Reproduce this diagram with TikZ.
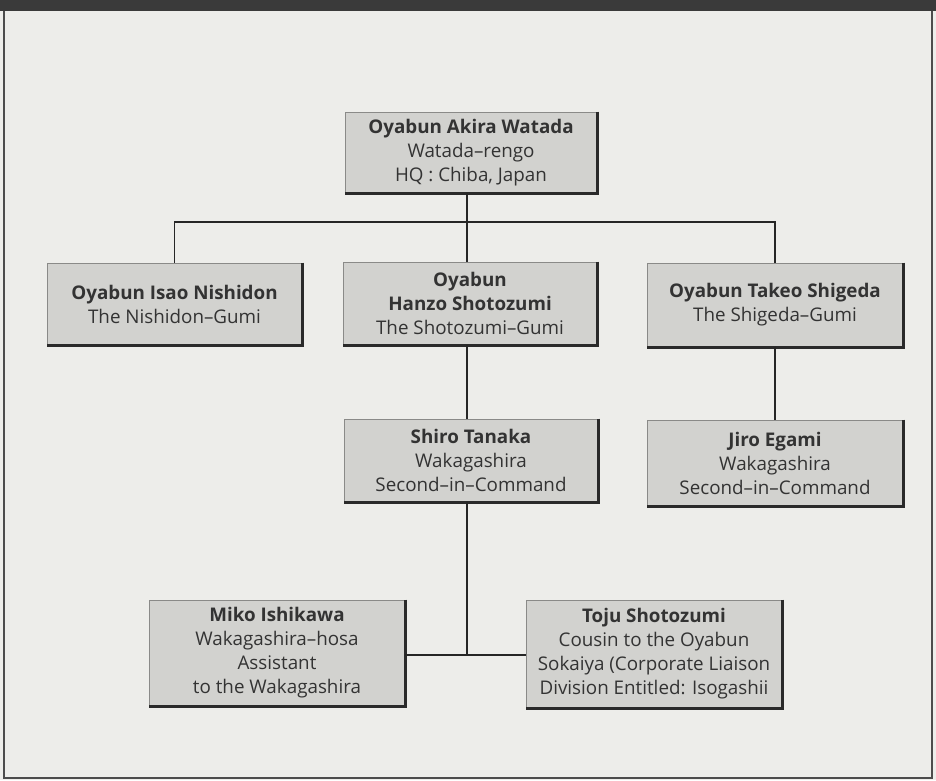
\documentclass[tikz,border=0pt]{standalone}
\usepackage{fontspec}
\setmainfont{Open Sans}
\definecolor{bg}{HTML}{EDEDEA}
\definecolor{boxfill}{HTML}{D2D2CF}
\definecolor{thinedge}{HTML}{8A8A88}
\definecolor{darkedge}{HTML}{2A2A2A}
\definecolor{topbar}{HTML}{3A3A3A}
\tikzset{
  orgbox/.style={rectangle, fill=boxfill, draw=thinedge, line width=0.8pt, inner sep=0pt,
    align=center, font=\fontsize{18.8}{24}\selectfont, text=black!80},
  shadowedge/.style={draw=darkedge, line width=2.6pt},
  link/.style={draw=black!85, line width=1.2pt}
}
\newcommand{\hd}[1]{\textbf{#1}}
\begin{document}
\begin{tikzpicture}[x=1pt,y=1pt]
\useasboundingbox (0,0) rectangle (936,780);
\fill[bg] (0,0) rectangle (936,780);
\fill[topbar] (0,769) rectangle (936,780);
\draw[black!70, line width=1.5pt] (4,769) -- (4,2) -- (932,2) -- (932,769);

\node[orgbox, minimum width=252, minimum height=81] (top) at (471,627.5)
  {\hd{Oyabun Akira Watada}\\Watada--rengo\\HQ : Chiba, Japan};
\node[orgbox, minimum width=255, minimum height=82] (nish) at (174.5,476)
  {\hd{Oyabun Isao Nishidon}\\The Nishidon--Gumi};
\node[orgbox, minimum width=254, minimum height=83] (shot) at (470,476.5)
  {\hd{Oyabun}\\\hd{Hanzo Shotozumi}\\The Shotozumi--Gumi};
\node[orgbox, minimum width=256, minimum height=84] (shig) at (775,475)
  {\hd{Oyabun Takeo Shigeda}\\The Shigeda--Gumi};
\node[orgbox, minimum width=254, minimum height=83] (tana) at (471,319.5)
  {\hd{Shiro Tanaka}\\Wakagashira\\Second--in--Command};
\node[orgbox, minimum width=256, minimum height=86] (egami) at (775,317)
  {\hd{Jiro Egami}\\Wakagashira\\Second--in--Command};
\node[orgbox, minimum width=256, minimum height=106] (ishi) at (277,127)
  {\hd{Miko Ishikawa}\\Wakagashira--hosa\\Assistant\\to the Wakagashira};
\node[orgbox, minimum width=256, minimum height=108] (toju) at (654,126)
  {\hd{Toju Shotozumi}\\Cousin to the Oyabun\\Sokaiya (Corporate Liaison\\Division Entitled: Isogashii};

\foreach \n in {top,nish,shot,shig,tana,egami,ishi,toju}{
  \draw[shadowedge] (\n.north east) -- (\n.south east) -- (\n.south west);
}

\coordinate (bar) at (467,558);
\coordinate (low) at (467,125);
\draw[link] (top.south -| bar) -- (bar);
\draw[link] (nish.north) |- (bar -| shig.north) -- (shig.north);
\draw[link] (shot.north -| bar) -- (bar);
\draw[link] (shot.south -| bar) -- (tana.north -| bar);
\draw[link] (shig.south) -- (egami.north);
\draw[link] (tana.south -| bar) -- (low);
\draw[link] (ishi.east |- low) -- (toju.west |- low);
\end{tikzpicture}
\end{document}
